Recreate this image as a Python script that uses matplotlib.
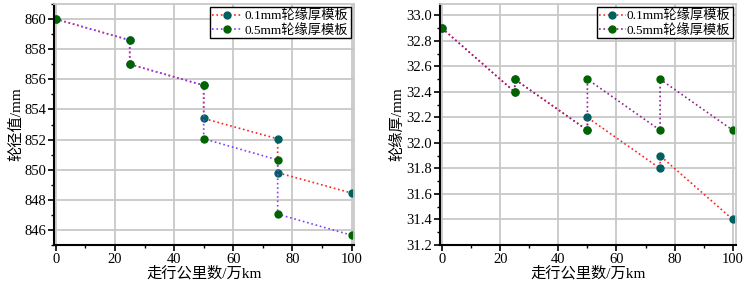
import numpy as np
import matplotlib
matplotlib.use('Agg')
import matplotlib.pyplot as plt
from matplotlib.ticker import MultipleLocator

plt.rcParams['font.family'] = ['Liberation Serif', 'Noto Sans CJK SC']
plt.rcParams['font.size'] = 10.5

# data
km = [0, 25, 25, 50, 50, 75, 75, 100]
dia_01 = [860.0, 858.6, 857.0, 855.6, 853.4, 852.05, 849.8, 848.45]
dia_05 = [860.0, 858.6, 857.0, 855.6, 852.05, 850.65, 847.05, 845.65]
flange_01 = [32.9, 32.4, 32.5, 32.1, 32.2, 31.8, 31.9, 31.4]
flange_05 = [32.9, 32.4, 32.5, 32.1, 32.5, 32.1, 32.5, 32.1]
labels = ['0.1mm轮缘厚模板', '0.5mm轮缘厚模板']

fig = plt.figure(figsize=(7.46, 2.88), dpi=100)
ax1 = fig.add_axes([54/746, 43/288, 300/746, 241/288])
ax2 = fig.add_axes([440/746, 43/288, 296/746, 241/288])

def style(ax):
    ax.grid(True, which='major', color='#c8c8c8', lw=1.3)
    ax.set_axisbelow(True)
    for s in ['top', 'right']:
        ax.spines[s].set_color('#c8c8c8')
        ax.spines[s].set_linewidth(1.3)
    for s in ['left', 'bottom']:
        ax.spines[s].set_linewidth(1.5)
    ax.xaxis.set_major_locator(MultipleLocator(20))
    ax.xaxis.set_minor_locator(MultipleLocator(10))
    ax.tick_params(which='major', direction='out', length=4, width=1.2, pad=1.5)
    ax.tick_params(which='minor', direction='out', length=2.5, width=1.0)
    ax.tick_params(top=False, right=False)
    ax.set_xlabel('走行公里数/万km', fontsize=11, labelpad=0)

# left chart
ax1.plot(km, dia_01, ':', color='#ff2020', lw=1.2, marker='o', ms=5,
         mfc='#006060', mec='#006060', label=labels[0])
ax1.plot(km, dia_05, ':', color='#8040ff', lw=1.2, marker='o', ms=5,
         mfc='#006400', mec='#006400', label=labels[1])
ax1.set_xlim(-0.6, 100.8)
ax1.set_ylim(845, 861)
ax1.yaxis.set_major_locator(MultipleLocator(2))
ax1.yaxis.set_minor_locator(MultipleLocator(1))
ax1.set_ylabel('轮径值/mm', fontsize=11, labelpad=1)
style(ax1)
ax1.legend(loc='upper right', fancybox=False, edgecolor='black', framealpha=1,
           borderaxespad=0.25, handlelength=2.3, handletextpad=0.2,
           borderpad=0.15, labelspacing=0.1, fontsize=9.5)

# right chart
ax2.plot(km, flange_01, ':', color='#ff2020', lw=1.2, marker='o', ms=5,
         mfc='#006060', mec='#006060', label=labels[0])
ax2.plot(km, flange_05, ':', color='#902090', lw=1.2, marker='o', ms=5,
         mfc='#006400', mec='#006400', label=labels[1])
ax2.set_xlim(-0.7, 101.1)
ax2.set_ylim(31.2, 33.09)
ax2.yaxis.set_major_locator(MultipleLocator(0.2))
ax2.yaxis.set_minor_locator(MultipleLocator(0.1))
ax2.yaxis.set_major_formatter(plt.FormatStrFormatter('%.1f'))
ax2.set_ylabel('轮缘厚/mm', fontsize=11, labelpad=1)
style(ax2)
ax2.legend(loc='upper right', fancybox=False, edgecolor='black', framealpha=1,
           borderaxespad=0.25, handlelength=2.0, handletextpad=0.1,
           borderpad=0.15, labelspacing=0.1, fontsize=9.5)

fig.savefig('out.png', dpi=100)
